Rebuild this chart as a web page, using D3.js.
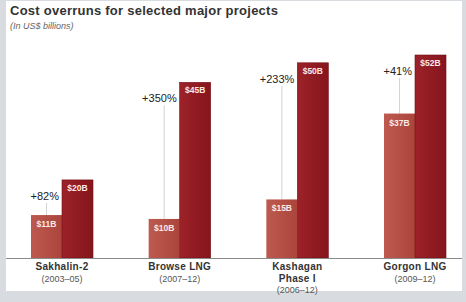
<!DOCTYPE html>
<html>
<head>
<meta charset="utf-8">
<script src="https://cdn.jsdelivr.net/npm/d3@7"></script>
<style>
  html, body { margin: 0; padding: 0; background: #d8dce1; }
  svg { display: block; font-family: "Liberation Sans", Arial, sans-serif; }
</style>
</head>
<body>
<div id="chart"></div>
<script>
const projects = ['Sakhalin-2', 'Browse LNG', 'Kashagan\nPhase I', 'Gorgon LNG']
const periods = ['(2003–05)', '(2007–12)', '(2006–12)', '(2009–12)']
const initialCost = [11, 10, 15, 37]
const finalCost = [20, 45, 50, 52]
const overrun = ['+82%', '+350%', '+233%', '+41%']

const width = 466
const height = 302
const baseY = 258

const svg = d3.select('#chart')
  .append('svg')
  .attr('width', width)
  .attr('height', height)

// gradients for the bars
const defs = svg.append('defs')
const gradLight = defs.append('linearGradient').attr('id', 'grad-light')
gradLight.append('stop').attr('offset', '0%').attr('stop-color', '#bd5a4f')
gradLight.append('stop').attr('offset', '100%').attr('stop-color', '#ab453b')
const gradDark = defs.append('linearGradient').attr('id', 'grad-dark')
gradDark.append('stop').attr('offset', '0%').attr('stop-color', '#9c2228')
gradDark.append('stop').attr('offset', '100%').attr('stop-color', '#86151d')

// white panel
svg.append('rect')
  .attr('x', 6)
  .attr('y', 1)
  .attr('width', 456)
  .attr('height', 290)
  .attr('fill', '#ffffff')

svg.append('text')
  .attr('x', 10)
  .attr('y', 15)
  .attr('font-size', '13px')
  .attr('font-weight', 700)
  .attr('letter-spacing', '0.25px')
  .attr('fill', '#333')
  .text('Cost overruns for selected major projects')

svg.append('text')
  .attr('x', 10)
  .attr('y', 29)
  .attr('font-size', '9px')
  .attr('font-style', 'italic')
  .attr('fill', '#666')
  .text('(In US$ billions)')

const x = d3.scalePoint()
  .domain(projects)
  .range([62, 415])

const inner = d3.scaleBand()
  .domain(['initial', 'final'])
  .range([-31, 31])

const y = d3.scaleLinear()
  .domain([0, 52])
  .range([baseY, 55])

const groups = svg.selectAll('g.project')
  .data(projects.map((p, i) => ({
    project: p,
    period: periods[i],
    initial: initialCost[i],
    final: finalCost[i],
    overrun: overrun[i]
  })))
  .enter()
  .append('g')
  .attr('class', 'project')
  .attr('transform', d => `translate(${x(d.project)}, 0)`)

// connector line from percentage down to the initial bar
groups.append('line')
  .attr('x1', inner('initial') + inner.bandwidth() / 2)
  .attr('x2', inner('initial') + inner.bandwidth() / 2)
  .attr('y1', d => y(d.final) + 23)
  .attr('y2', d => y(d.initial))
  .attr('stroke', '#c8c8c8')
  .attr('stroke-width', 0.8)

groups.append('rect')
  .attr('x', inner('initial'))
  .attr('y', d => y(d.initial))
  .attr('width', inner.bandwidth())
  .attr('height', d => baseY - y(d.initial))
  .attr('fill', 'url(#grad-light)')

groups.append('rect')
  .attr('x', inner('final'))
  .attr('y', d => y(d.final))
  .attr('width', inner.bandwidth())
  .attr('height', d => baseY - y(d.final))
  .attr('fill', 'url(#grad-dark)')
  .attr('stroke', '#741016')
  .attr('stroke-width', 0.6)

groups.append('text')
  .attr('x', inner('initial') + inner.bandwidth() / 2)
  .attr('y', d => y(d.initial) + 12)
  .attr('text-anchor', 'middle')
  .attr('font-size', '8.5px')
  .attr('font-weight', 700)
  .attr('fill', '#fbe9e6')
  .text(d => `$${d.initial}B`)

groups.append('text')
  .attr('x', inner('final') + inner.bandwidth() / 2)
  .attr('y', d => y(d.final) + 11)
  .attr('text-anchor', 'middle')
  .attr('font-size', '8.5px')
  .attr('font-weight', 700)
  .attr('fill', '#fbe9e6')
  .text(d => `$${d.final}B`)

groups.append('text')
  .attr('x', inner('final') - 3)
  .attr('y', d => y(d.final) + 20)
  .attr('text-anchor', 'end')
  .attr('font-size', '11px')
  .attr('fill', '#222')
  .text(d => d.overrun)

// baseline
svg.append('line')
  .attr('x1', 6)
  .attr('x2', 462)
  .attr('y1', baseY + 0.5)
  .attr('y2', baseY + 0.5)
  .attr('stroke', '#8a8a8a')
  .attr('stroke-width', 1)

// category labels
groups.each(function(d) {
  const node = d3.select(this)
  const lines = d.project.split('\n')
  lines.forEach((line, j) => {
    node.append('text')
      .attr('y', 270 + j * 11.5)
      .attr('text-anchor', 'middle')
      .attr('font-size', '10px')
      .attr('font-weight', 700)
      .attr('letter-spacing', '0.3px')
      .attr('fill', '#333')
      .text(line)
  })
  node.append('text')
    .attr('y', 270 + lines.length * 11.5)
    .attr('text-anchor', 'middle')
    .attr('font-size', '9px')
    .attr('fill', '#555')
    .text(d.period)
})
</script>
</body>
</html>
